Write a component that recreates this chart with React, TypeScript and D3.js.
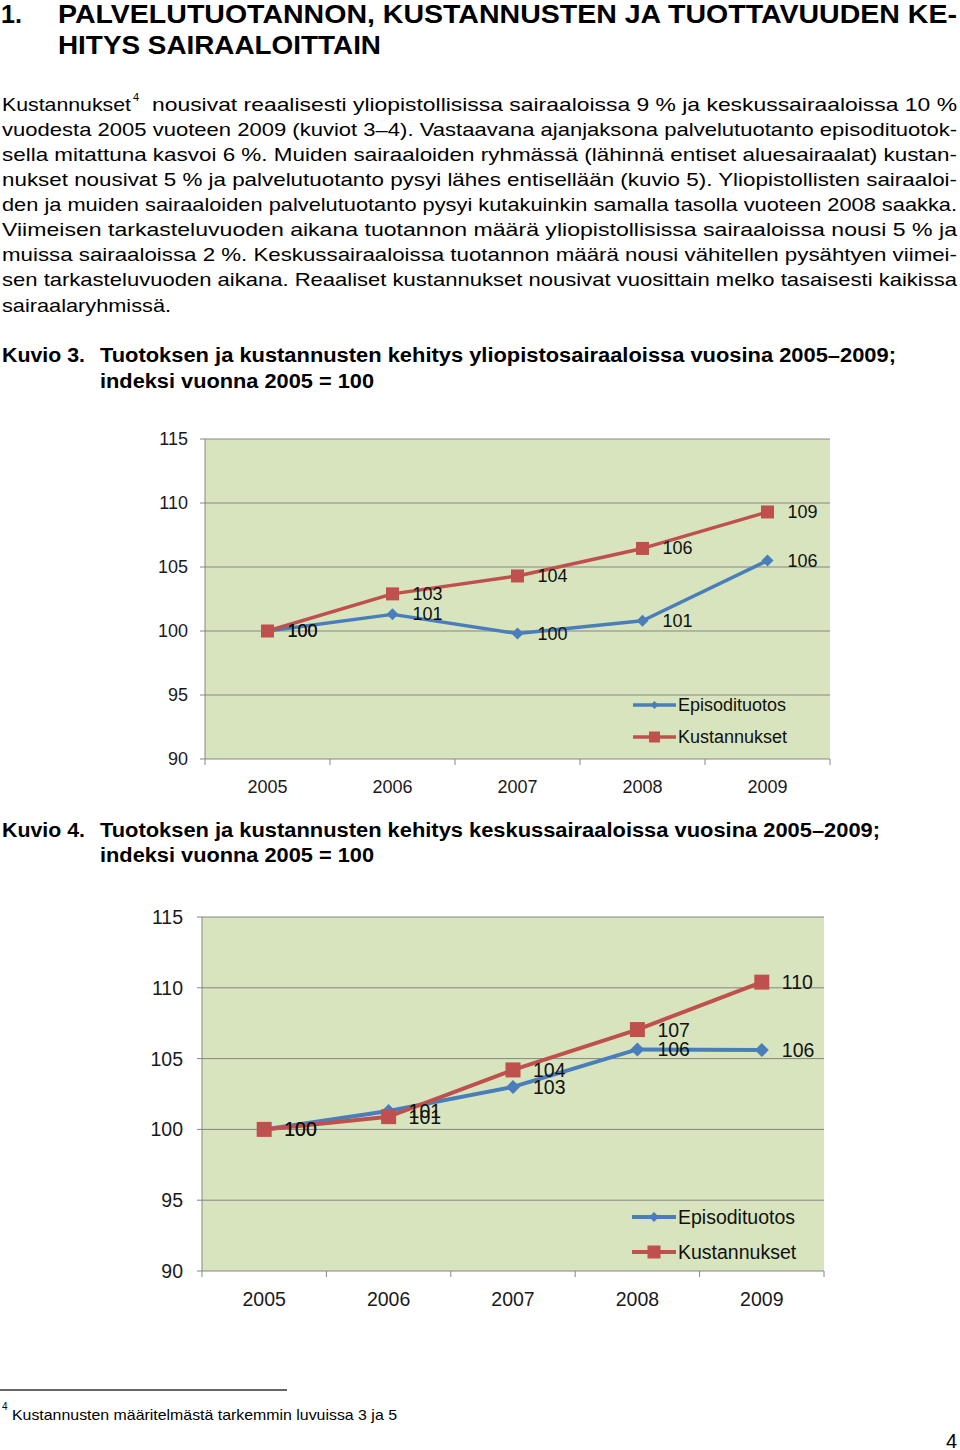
import React from "react";
import * as d3 from "d3";

const years = ["2005", "2006", "2007", "2008", "2009"];
const yTicks = [90, 95, 100, 105, 110, 115];

// Kuvio 3: yliopistosairaalat
const yliopistoEpisodi = [100, 101.3, 99.8, 100.8, 105.5];
const yliopistoKustannukset = [100, 102.9, 104.3, 106.45, 109.3];

// Kuvio 4: keskussairaalat
const keskusEpisodi = [100, 101.3, 103.0, 105.65, 105.6];
const keskusKustannukset = [100, 100.9, 104.2, 107.05, 110.4];

const seriesNames = ["Episodituotos", "Kustannukset"];

const titleLines = ["PALVELUTUOTANNON, KUSTANNUSTEN JA TUOTTAVUUDEN KE-", "HITYS SAIRAALOITTAIN"];

const bodyLines = [
  "vuodesta 2005 vuoteen 2009 (kuviot 3–4). Vastaavana ajanjaksona palvelutuotanto episodituotok-",
  "sella mitattuna kasvoi 6 %. Muiden sairaaloiden ryhmässä (lähinnä entiset aluesairaalat) kustan-",
  "nukset nousivat 5 % ja palvelutuotanto pysyi lähes entisellään (kuvio 5). Yliopistollisten sairaaloi-",
  "den ja muiden sairaaloiden palvelutuotanto pysyi kutakuinkin samalla tasolla vuoteen 2008 saakka.",
  "Viimeisen tarkasteluvuoden aikana tuotannon määrä yliopistollisissa sairaaloissa nousi 5 % ja",
  "muissa sairaaloissa 2 %. Keskussairaaloissa tuotannon määrä nousi vähitellen pysähtyen viimei-",
  "sen tarkasteluvuoden aikana. Reaaliset kustannukset nousivat vuosittain melko tasaisesti kaikissa",
];

const BLUE = "#4a7ebb";
const RED = "#c0504d";
const FONT = "'Liberation Sans', Arial, Helvetica, sans-serif";

type ChartProps = {
  left: number;
  right: number;
  top: number;
  bottom: number;
  episodi: number[];
  kustannukset: number[];
  fontSize: number;
  sq: number;
  dia: number;
  lineW: number;
  yearY: number;
  legendX1: number;
  legendX2: number;
  legendY1: number;
  legendY2: number;
  tickLabelGap: number;
};

function Diamond({ x, y, r, color }: { x: number; y: number; r: number; color: string }) {
  return <path d={`M${x},${y - r}L${x + r},${y}L${x},${y + r}L${x - r},${y}Z`} fill={color} />;
}

function Chart(p: ChartProps) {
  const x = d3.scaleBand<string>().domain(years).range([p.left, p.right]).paddingInner(0).paddingOuter(0);
  const y = d3.scaleLinear().domain([90, 115]).range([p.bottom, p.top]);
  const cx = (d: string) => (x(d) as number) + x.bandwidth() / 2;
  const line = d3
    .line<number>()
    .x((_, i) => cx(years[i]))
    .y((v) => y(v));
  const boundaries = years.map((d) => x(d) as number).concat([p.right]);
  const grid = "#868686";
  const legMid = (p.legendX1 + p.legendX2) / 2;
  return (
    <g fontFamily={FONT}>
      <rect x={p.left} y={p.top} width={p.right - p.left} height={p.bottom - p.top} fill="#d7e4bd" />
      {yTicks.map((t) => (
        <g key={t}>
          <line x1={p.left - 5} x2={p.right} y1={y(t)} y2={y(t)} stroke={grid} strokeWidth={1} />
          <text
            x={p.left - p.tickLabelGap}
            y={y(t)}
            textAnchor="end"
            dominantBaseline="central"
            fontSize={p.fontSize}
            fill="#1a1a1a"
          >
            {t}
          </text>
        </g>
      ))}
      <line x1={p.left} x2={p.left} y1={p.top} y2={p.bottom} stroke={grid} strokeWidth={1} />
      {boundaries.map((b, i) => (
        <line key={i} x1={b} x2={b} y1={p.bottom} y2={p.bottom + 6} stroke={grid} strokeWidth={1} />
      ))}
      {years.map((d) => (
        <text key={d} x={cx(d)} y={p.yearY} textAnchor="middle" dominantBaseline="central" fontSize={p.fontSize} fill="#1a1a1a">
          {d}
        </text>
      ))}
      <path d={line(p.episodi) || ""} fill="none" stroke={BLUE} strokeWidth={p.lineW} strokeLinejoin="round" />
      {p.episodi.map((v, i) => (
        <Diamond key={i} x={cx(years[i])} y={y(v)} r={p.dia} color={BLUE} />
      ))}
      <path d={line(p.kustannukset) || ""} fill="none" stroke={RED} strokeWidth={p.lineW} strokeLinejoin="round" />
      {p.kustannukset.map((v, i) => (
        <rect key={i} x={cx(years[i]) - p.sq / 2} y={y(v) - p.sq / 2} width={p.sq} height={p.sq} fill={RED} />
      ))}
      {p.episodi.map((v, i) => (
        <text key={"e" + i} x={cx(years[i]) + 20} y={y(v)} dominantBaseline="central" fontSize={p.fontSize} fill="#111">
          {Math.round(v)}
        </text>
      ))}
      {p.kustannukset.map((v, i) => (
        <text key={"k" + i} x={cx(years[i]) + 20} y={y(v)} dominantBaseline="central" fontSize={p.fontSize} fill="#111">
          {Math.round(v)}
        </text>
      ))}
      {/* legend */}
      <line x1={p.legendX1} x2={p.legendX2} y1={p.legendY1} y2={p.legendY1} stroke={BLUE} strokeWidth={p.lineW} />
      <Diamond x={legMid} y={p.legendY1} r={p.dia - 2} color={BLUE} />
      <text x={p.legendX2 + 2} y={p.legendY1} dominantBaseline="central" fontSize={p.fontSize} fill="#111">
        {seriesNames[0]}
      </text>
      <line x1={p.legendX1} x2={p.legendX2} y1={p.legendY2} y2={p.legendY2} stroke={RED} strokeWidth={p.lineW} />
      <rect x={legMid - (p.sq - 2) / 2} y={p.legendY2 - (p.sq - 2) / 2} width={p.sq - 2} height={p.sq - 2} fill={RED} />
      <text x={p.legendX2 + 2} y={p.legendY2} dominantBaseline="central" fontSize={p.fontSize} fill="#111">
        {seriesNames[1]}
      </text>
    </g>
  );
}

export default function App() {
  const bodyFont = 19;
  return (
    <svg
      width={960}
      height={1450}
      style={{ position: "absolute", left: 0, top: 0, background: "#fff" }}
      fontFamily={FONT}
    >
      {/* Title */}
      <g fontWeight="bold" fontSize={25} fill="#000">
        <text x={1} y={14} dominantBaseline="central" textLength={21} lengthAdjust="spacingAndGlyphs">1.</text>
        <text x={58} y={14} dominantBaseline="central" textLength={899} lengthAdjust="spacingAndGlyphs">
          {titleLines[0]}
        </text>
        <text x={58} y={45} dominantBaseline="central" textLength={323} lengthAdjust="spacingAndGlyphs">
          {titleLines[1]}
        </text>
      </g>

      {/* Body text */}
      <g fontSize={bodyFont} fill="#000">
        <text x={2} y={104} dominantBaseline="central" textLength={129} lengthAdjust="spacingAndGlyphs">
          Kustannukset
        </text>
        <text x={133} y={97} dominantBaseline="central" fontSize={11}>4</text>
        <text x={152} y={104} dominantBaseline="central" textLength={805} lengthAdjust="spacingAndGlyphs">
          nousivat reaalisesti yliopistollisissa sairaaloissa 9 % ja keskussairaaloissa 10 %
        </text>
        {bodyLines.map((l, i) => (
          <text
            key={i}
            x={2}
            y={129.2 + i * 25.1}
            dominantBaseline="central"
            textLength={955}
            lengthAdjust="spacingAndGlyphs"
          >
            {l}
          </text>
        ))}
        <text x={2} y={305} dominantBaseline="central" textLength={169} lengthAdjust="spacingAndGlyphs">
          sairaalaryhmissä.
        </text>
      </g>

      {/* Kuvio 3 caption */}
      <g fontWeight="bold" fontSize={20} fill="#000">
        <text x={2} y={355} dominantBaseline="central" textLength={83} lengthAdjust="spacingAndGlyphs">Kuvio 3.</text>
        <text x={100} y={355} dominantBaseline="central" textLength={796} lengthAdjust="spacingAndGlyphs">
          Tuotoksen ja kustannusten kehitys yliopistosairaaloissa vuosina 2005–2009;
        </text>
        <text x={100} y={381} dominantBaseline="central" textLength={274} lengthAdjust="spacingAndGlyphs">
          indeksi vuonna 2005 = 100
        </text>
      </g>

      <Chart
        left={205}
        right={830}
        top={439}
        bottom={759}
        episodi={yliopistoEpisodi}
        kustannukset={yliopistoKustannukset}
        fontSize={18}
        sq={13}
        dia={6}
        lineW={3.5}
        yearY={787}
        legendX1={633}
        legendX2={676}
        legendY1={705}
        legendY2={737}
        tickLabelGap={17}
      />

      {/* Kuvio 4 caption */}
      <g fontWeight="bold" fontSize={20} fill="#000">
        <text x={2} y={830} dominantBaseline="central" textLength={83} lengthAdjust="spacingAndGlyphs">Kuvio 4.</text>
        <text x={100} y={830} dominantBaseline="central" textLength={780} lengthAdjust="spacingAndGlyphs">
          Tuotoksen ja kustannusten kehitys keskussairaaloissa vuosina 2005–2009;
        </text>
        <text x={100} y={855} dominantBaseline="central" textLength={274} lengthAdjust="spacingAndGlyphs">
          indeksi vuonna 2005 = 100
        </text>
      </g>

      <Chart
        left={202}
        right={824}
        top={917}
        bottom={1271}
        episodi={keskusEpisodi}
        kustannukset={keskusKustannukset}
        fontSize={19.5}
        sq={15}
        dia={7}
        lineW={4}
        yearY={1299}
        legendX1={632}
        legendX2={676}
        legendY1={1217}
        legendY2={1252}
        tickLabelGap={19}
      />

      {/* Footnote */}
      <line x1={0} x2={287} y1={1390} y2={1390} stroke="#333" strokeWidth={1.5} />
      <text x={2} y={1406} dominantBaseline="central" fontSize={10}>4</text>
      <text x={12} y={1414} dominantBaseline="central" fontSize={15} textLength={385} lengthAdjust="spacingAndGlyphs">
        Kustannusten määritelmästä tarkemmin luvuissa 3 ja 5
      </text>
      <text x={957} y={1441} textAnchor="end" dominantBaseline="central" fontSize={20}>4</text>
    </svg>
  );
}
